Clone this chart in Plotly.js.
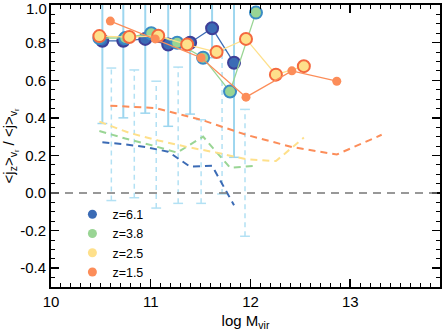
<!DOCTYPE html>
<html>
<head>
<meta charset="utf-8">
<script src="https://cdn.plot.ly/plotly-3.0.1.min.js"></script>
<style>
  html, body { margin: 0; padding: 0; background: #fff; }
  #chart { width: 443px; height: 335px; }
</style>
</head>
<body>
<div id="chart"></div>
<script>
// z = 6.1
const blueX = [10.515, 10.725, 10.945, 11.175, 11.395, 11.615, 11.835];
const blueY = [0.81, 0.81, 0.82, 0.79, 0.80, 0.877, 0.693];
const blueDash = [0.27, 0.26, 0.245, 0.22, 0.14, 0.145, -0.065];
const blueErrLo = [0.37, 0.40, 0.425, 0.355, 0.42, 0.72, 0.19];
const blueErrHi = [1.1, 1.1, 1.1, 1.1, 1.1, 1.1, 1.1];

// z = 3.8
const greenX = [10.485, 10.745, 11.005, 11.265, 11.525, 11.795, 12.055];
const greenY = [0.825, 0.825, 0.85, 0.80, 0.72, 0.54, 0.96];
const greenDash = [0.33, 0.29, 0.255, 0.215, 0.30, 0.135, 0.145];

// z = 2.5
const yellowX = [10.485, 10.785, 11.075, 11.365, 11.66, 11.955, 12.255, 12.535];
const yellowY = [0.835, 0.83, 0.837, 0.79, 0.75, 0.82, 0.63, 0.675];
const yellowDash = [0.38, 0.32, 0.28, 0.245, 0.215, 0.18, 0.17, 0.295];

// z = 1.5
const orangeX = [10.595, 11.045, 11.505, 11.955, 12.415, 12.865];
const orangeY = [0.915, 0.82, 0.72, 0.51, 0.65, 0.595];
const orangeDashX = [10.595, 11.045, 11.505, 11.955, 12.415, 12.865, 13.315];
const orangeDash = [0.465, 0.452, 0.39, 0.31, 0.245, 0.205, 0.31];

// dashed error bars
const errX = [10.605, 10.835, 11.055, 11.275, 11.505, 11.715, 11.945];
const errHi = [0.665, 0.655, 0.595, 0.67, 0.39, 0.76, 0.445];
const errLo = [-0.04, -0.025, -0.08, -0.055, -0.055, -0.005, -0.23];

const labels = ['z=6.1', 'z=3.8', 'z=2.5', 'z=1.5'];
const yTicks = [-0.4, -0.2, 0.0, 0.2, 0.4, 0.6, 0.8, 1.0];
// top label is drawn as an annotation so it sits inside the page like the original
const yTickText = ['-0.4', '-0.2', '0.0', '0.2', '0.4', '0.6', '0.8', ''];
const topLabel = '1.0';

const C_BLUE = '#3b6bb5', C_GREEN = '#99d594', C_YELLOW = '#fee08b', C_ORANGE = '#fc8d59';
const C_ERR = '#9dd6ef';

// vertical segments, null separated
function segs(xs, lo, hi) {
    let x = [], y = [];
    for (let i = 0; i < xs.length; i++) {
        x.push(xs[i], xs[i], null);
        y.push(lo[i], hi[i], null);
    }
    return {x: x, y: y};
}

const solidErr = segs(blueX, blueErrLo, blueErrHi);
const dashErr = segs(errX, errLo, errHi);

const traces = [
    {x: solidErr.x, y: solidErr.y, mode: 'lines+markers', showlegend: false,
     line: {color: C_ERR, width: 2},
     marker: {symbol: 'line-ew', size: 7, line: {color: C_ERR, width: 1.5}}},
    {x: dashErr.x, y: dashErr.y, mode: 'lines+markers', showlegend: false,
     line: {color: '#b3e1f4', width: 1.5, dash: '5px,4px'},
     marker: {symbol: 'line-ew', size: 7, line: {color: '#b3e1f4', width: 1.5}}},

    {x: blueX, y: blueDash, mode: 'lines', showlegend: false, line: {color: C_BLUE, width: 2, dash: '7px,5px'}},
    {x: greenX, y: greenDash, mode: 'lines', showlegend: false, line: {color: C_GREEN, width: 2, dash: '7px,5px'}},
    {x: yellowX, y: yellowDash, mode: 'lines', showlegend: false, line: {color: C_YELLOW, width: 2, dash: '7px,5px'}},
    {x: orangeDashX, y: orangeDash, mode: 'lines', showlegend: false, line: {color: C_ORANGE, width: 2, dash: '7px,5px'}},

    {x: blueX, y: blueY, mode: 'lines+markers', showlegend: false,
     line: {color: C_BLUE, width: 1.3},
     marker: {size: 12, color: C_BLUE, line: {color: '#3e3f98', width: 2}}},
    {x: greenX, y: greenY, mode: 'lines+markers', showlegend: false,
     line: {color: C_GREEN, width: 1.3},
     marker: {size: 12, color: C_GREEN, line: {color: '#3a8cc4', width: 2}}},
    {x: yellowX, y: yellowY, mode: 'lines+markers', showlegend: false,
     line: {color: C_YELLOW, width: 1.3},
     marker: {size: 12, color: C_YELLOW, line: {color: '#f4693f', width: 2}}},
    {x: orangeX, y: orangeY, mode: 'lines+markers', showlegend: false,
     line: {color: C_ORANGE, width: 1.3},
     marker: {size: 9, color: C_ORANGE}}
];

// legend only entries
[C_BLUE, C_GREEN, C_YELLOW, C_ORANGE].forEach((c, i) => {
    traces.push({x: [null], y: [null], mode: 'markers', name: labels[i],
                 marker: {size: 9, color: c}});
});

const axisCommon = {
    showline: true, linecolor: '#000', linewidth: 2, mirror: 'allticks',
    ticks: 'inside', ticklen: 8, tickwidth: 1.5, tickcolor: '#000',
    showgrid: false, zeroline: false,
    tickfont: {size: 15, color: '#000'}
};

const layout = {
    width: 443, height: 335,
    margin: {l: 51, r: 3, t: 5, b: 48},
    paper_bgcolor: '#fff', plot_bgcolor: '#fff',
    font: {family: 'Liberation Sans, Arial, sans-serif', color: '#000'},
    showlegend: true,
    legend: {x: 0.055, y: 0.31, xanchor: 'left', yanchor: 'top', bgcolor: 'rgba(0,0,0,0)',
             font: {size: 12.5}, itemwidth: 30, tracegroupgap: 0},
    xaxis: Object.assign({}, axisCommon, {
        range: [10, 13.9], tick0: 10, dtick: 1,
        minor: {dtick: 0.1, ticks: 'inside', ticklen: 4, tickwidth: 1, tickcolor: '#000'},
        title: {text: 'log M<sub>vir</sub>', font: {size: 15}, standoff: 6}
    }),
    yaxis: Object.assign({}, axisCommon, {
        range: [-0.5, 1.0005], tickvals: yTicks, ticktext: yTickText,
        minor: {dtick: 0.05, ticks: 'inside', ticklen: 4, tickwidth: 1, tickcolor: '#000'},
        title: {text: '&lt;j<sub>z</sub>&gt;<sub>v<sub>r</sub></sub> / &lt;j&gt;<sub>v<sub>r</sub></sub>',
                font: {size: 15}, standoff: 2}
    }),
    annotations: [
        {text: topLabel, xref: 'paper', x: 0, xanchor: 'right', xshift: -2,
         yref: 'y', y: 1.0, yanchor: 'top', yshift: 7, showarrow: false,
         font: {size: 15, color: '#000'}}
    ],
    shapes: [
        {type: 'line', xref: 'paper', x0: 0, x1: 1, yref: 'y', y0: 0, y1: 0,
         line: {color: '#777', width: 1.5, dash: '8px,6px'}}
    ]
};

Plotly.newPlot('chart', traces, layout, {displayModeBar: false, staticPlot: true});
</script>
</body>
</html>
